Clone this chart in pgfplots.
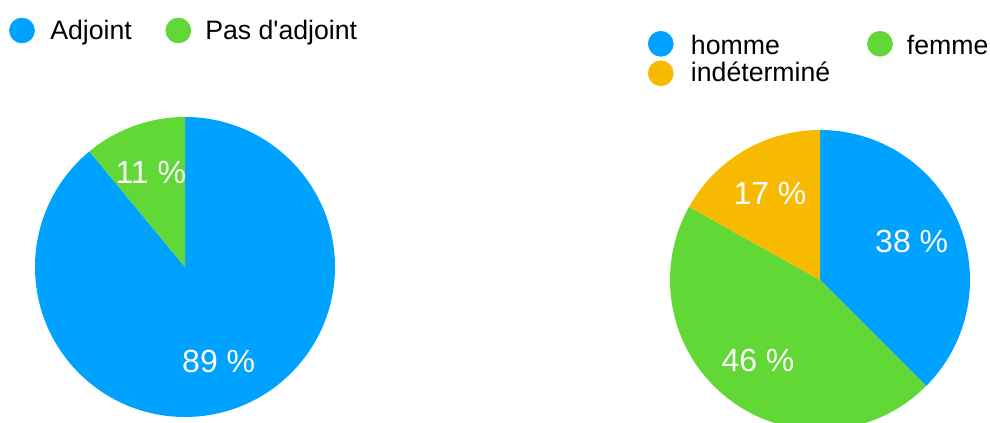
\documentclass[border=0pt]{standalone}
\usepackage{fontspec}
\setmainfont{Liberation Sans}
\usepackage{pgfplots}
\pgfplotsset{compat=1.18}

\definecolor{cblue}{HTML}{00A2FF}
\definecolor{cgreen}{HTML}{61D836}
\definecolor{cyellow}{HTML}{F8BA00}

% one pie slice: centre x, centre y, start angle, value (%), colour
\newcommand{\slice}[5]{%
  \fill[#5] (axis cs:#1,#2) -- ++({#3}:112.5pt)
    arc[start angle={#3}, delta angle={-3.6*#4}, radius=112.5pt] -- cycle;}

\begin{document}
\begin{tikzpicture}
\useasboundingbox (0,0) rectangle (742.5pt,317.25pt);
\begin{axis}[
    x=0.75pt, y=0.75pt,
    xmin=0, xmax=990, ymin=0, ymax=423,
    hide axis, clip=true,
    anchor=south west, at={(0,0)},
]
% left pie: Adjoint 89, Pas d'adjoint 11
\slice{185}{156}{90}{89}{cblue}
\slice{185}{156}{90-3.6*89}{11}{cgreen}
% right pie: homme 37.5, femme 45.6, indetermine 16.9
\slice{820}{143}{90}{37.5}{cblue}
\slice{820}{143}{90-3.6*37.5}{45.6}{cgreen}
\slice{820}{143}{90-3.6*(37.5+45.6)}{16.9}{cyellow}

% slice labels
\node[anchor=base, white, inner sep=0pt, font=\fontsize{24}{28}\selectfont] at (axis cs:150.8,239.7) {11 \%};
\node[anchor=base, white, inner sep=0pt, font=\fontsize{24}{28}\selectfont] at (axis cs:218.7,50.7) {89 \%};
\node[anchor=base, white, inner sep=0pt, font=\fontsize{24}{28}\selectfont] at (axis cs:770,218) {17 \%};
\node[anchor=base, white, inner sep=0pt, font=\fontsize{24}{28}\selectfont] at (axis cs:911.7,170.3) {38 \%};
\node[anchor=base, white, inner sep=0pt, font=\fontsize{24}{28}\selectfont] at (axis cs:758,51.3) {46 \%};

% legends
\addplot[only marks, mark=*, mark size=9.4pt, cblue] coordinates {(22,392.5) (660.8,379.2)};
\addplot[only marks, mark=*, mark size=9.4pt, cgreen] coordinates {(178.3,392.5) (880,379.2)};
\addplot[only marks, mark=*, mark size=9.4pt, cyellow] coordinates {(660.8,349.7)};
\node[anchor=base west, inner sep=0pt, font=\fontsize{20}{24}\selectfont] at (axis cs:50,383.7) {Adjoint};
\node[anchor=base west, inner sep=0pt, font=\fontsize{20}{24}\selectfont] at (axis cs:205,383.7) {Pas d\textquotesingle adjoint};
\node[anchor=base west, inner sep=0pt, font=\fontsize{20}{24}\selectfont] at (axis cs:690.7,368.7) {homme};
\node[anchor=base west, inner sep=0pt, font=\fontsize{20}{24}\selectfont] at (axis cs:906.7,368.7) {femme};
\node[anchor=base west, inner sep=0pt, font=\fontsize{20}{24}\selectfont] at (axis cs:690.7,341.3) {indéterminé};
\end{axis}
\end{tikzpicture}
\end{document}
